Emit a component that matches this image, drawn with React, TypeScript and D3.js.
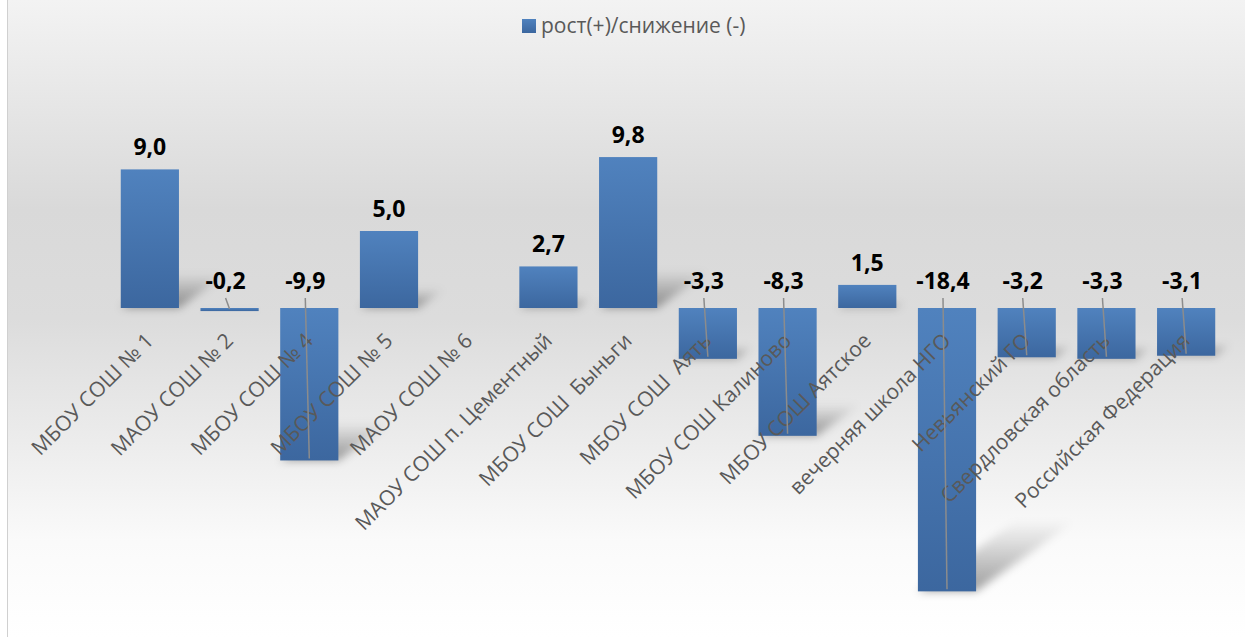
import * as d3 from 'd3'

const categories = [
  'МБОУ СОШ № 1',
  'МАОУ СОШ № 2',
  'МБОУ СОШ № 4',
  'МБОУ СОШ № 5',
  'МАОУ СОШ № 6',
  'МАОУ СОШ п. Цементный',
  'МБОУ СОШ  Быньги',
  'МБОУ СОШ  Аять',
  'МБОУ СОШ Калиново',
  'МБОУ СОШ Аятское',
  'вечерняя школа НГО',
  'Невьянский ГО',
  'Свердловская область',
  'Российская Федерация'
]

// no value reported for МАОУ СОШ № 6
const values: Array<number | null> = [9.0, -0.2, -9.9, 5.0, null, 2.7, 9.8, -3.3, -8.3, 1.5, -18.4, -3.2, -3.3, -3.1]

const seriesName = 'рост(+)/снижение (-)'

const width = 1245
const height = 637
const font = '"Open Sans", "Noto Sans", sans-serif'

const fmt = (v: number) => v.toFixed(1).replace('.', ',')

export default function App() {
  const x = d3.scaleBand<string>()
    .domain(categories)
    .range([110, 1226])
    .paddingInner(0.27)
    .paddingOuter(0.135)

  const y = d3.scaleLinear()
    .domain([-20, 10])
    .range([616, 154])

  const y0 = y(0)
  const bw = x.bandwidth()

  const rows = categories.map((c, i) => ({ name: c, value: values[i] }))

  return (
    <svg width={width} height={height} style={{ position: 'absolute', left: 0, top: 0 }}>
      <defs>
        <linearGradient id="bg" x1="0" y1="0" x2="0" y2="1">
          <stop offset="0" stopColor="#f3f3f3" />
          <stop offset="0.33" stopColor="#d9d9d9" />
          <stop offset="0.5" stopColor="#dcdcdc" />
          <stop offset="0.68" stopColor="#ebebeb" />
          <stop offset="0.85" stopColor="#fafafa" />
          <stop offset="1" stopColor="#ffffff" />
        </linearGradient>
        <linearGradient id="bar" x1="0" y1="0" x2="0" y2="1">
          <stop offset="0" stopColor="#5082be" />
          <stop offset="1" stopColor="#3c679f" />
        </linearGradient>
        <linearGradient id="shade" x1="0" y1="1" x2="0" y2="0">
          <stop offset="0" stopColor="#000" stopOpacity="0.38" />
          <stop offset="1" stopColor="#000" stopOpacity="0" />
        </linearGradient>
        <filter id="blur" x="-50%" y="-50%" width="200%" height="200%">
          <feGaussianBlur stdDeviation="4" />
        </filter>
      </defs>

      <rect x={8} y={0} width={width - 8} height={height} fill="url(#bg)" />
      <line x1={7.5} x2={7.5} y1={0} y2={height} stroke="#d0d0d0" strokeWidth={1} />

      {/* legend */}
      <g transform="translate(522,19)">
        <rect width={14} height={14} fill="url(#bar)" />
        <text x={19} y={14} fontFamily={font} fontSize={21} fill="#595959">{seriesName}</text>
      </g>

      {/* perspective shadows */}
      <g filter="url(#blur)">
        {rows.filter(d => d.value !== null).map(d => {
          const bx = x(d.name)!
          const yt = Math.min(y(d.value!), y0)
          const yb = Math.max(y(d.value!), y0)
          const h = yb - yt
          const dx = 0.35 * h
          const dy = 0.25 * h
          const pts = [[bx, yb], [bx + bw, yb], [bx + bw + dx, yb - dy], [bx + dx, yb - dy]]
          return <polygon key={d.name} points={pts.map(p => p.join(',')).join(' ')} fill="url(#shade)" />
        })}
      </g>

      {/* bars */}
      {rows.filter(d => d.value !== null).map(d => (
        <rect
          key={d.name}
          x={x(d.name)}
          y={Math.min(y(d.value!), y0)}
          width={bw}
          height={Math.abs(y(d.value!) - y0)}
          fill="url(#bar)"
        />
      ))}

      {/* category labels */}
      {rows.map(d => {
        const cx = x(d.name)! + bw / 2
        return (
          <text
            key={d.name}
            transform={`translate(${cx + 5},${342}) rotate(-45)`}
            textAnchor="end"
            fontFamily={font}
            fontSize={21}
            fill="#595959"
            style={{ whiteSpace: 'pre' }}
          >
            {d.name}
          </text>
        )
      })}

      {/* data labels with leader lines for negatives */}
      {rows.filter(d => d.value !== null).map(d => {
        const cx = x(d.name)! + bw / 2
        const v = d.value!
        if (v >= 0) {
          return (
            <text key={d.name} x={cx} y={y(v) - 14} textAnchor="middle" fontFamily={font}
              fontSize={23} fontWeight="bold" fill="#000">{fmt(v)}</text>
          )
        }
        return (
          <g key={d.name}>
            <line x1={cx - 4} y1={y0 - 10} x2={cx} y2={y(v) - 2} stroke="#8c8c8c" strokeWidth={1.5} />
            <text x={cx - 4} y={y0 - 19} textAnchor="middle" fontFamily={font}
              fontSize={23} fontWeight="bold" fill="#000">{fmt(v)}</text>
          </g>
        )
      })}
    </svg>
  )
}
